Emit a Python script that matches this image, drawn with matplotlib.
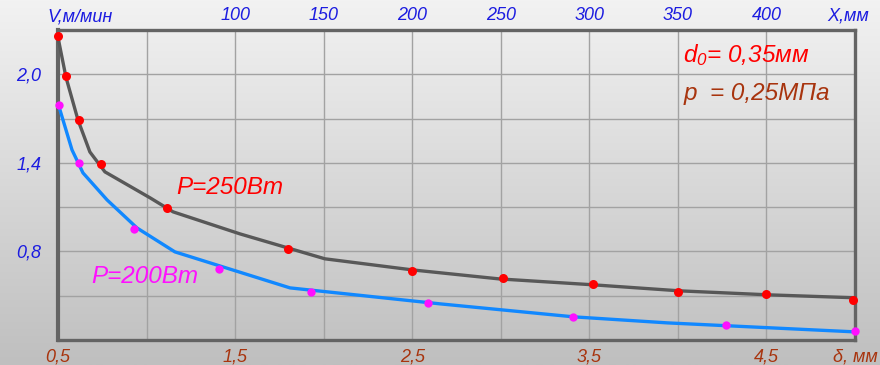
import numpy as np
import matplotlib
matplotlib.use("Agg")
import matplotlib.pyplot as plt
import matplotlib.transforms as mtrans

plt.rcParams['font.family'] = ['Liberation Sans', 'DejaVu Sans']
plt.rcParams['mathtext.fontset'] = 'custom'
plt.rcParams['mathtext.it'] = 'Liberation Sans:italic'
plt.rcParams['mathtext.rm'] = 'Liberation Sans:italic'

# ---- data ----
# P = 250 W : measured points
d_250 = [0.50, 0.545, 0.62, 0.74, 1.115, 1.80, 2.50, 3.01, 3.52, 4.00, 4.50, 4.99]
v_250 = [2.26, 1.99, 1.69, 1.39, 1.095, 0.817, 0.668, 0.621, 0.580, 0.526, 0.510, 0.472]
# P = 250 W : drawn curve
d_250_line = [0.50, 0.545, 0.613, 0.68, 0.765, 1.02, 1.15, 1.527, 2.007, 2.50, 2.99, 3.52, 4.01, 4.51, 5.00]
v_250_line = [2.25, 1.98, 1.69, 1.474, 1.339, 1.163, 1.068, 0.919, 0.750, 0.675, 0.614, 0.574, 0.533, 0.506, 0.486]
# P = 200 W : measured points
d_200 = [0.505, 0.62, 0.93, 1.41, 1.93, 2.59, 3.41, 4.27, 5.00]
v_200 = [1.79, 1.40, 0.953, 0.682, 0.526, 0.452, 0.357, 0.300, 0.262]
# P = 200 W : drawn curve
d_200_line = [0.506, 0.579, 0.641, 0.777, 0.946, 1.16, 1.81, 2.656, 3.41, 3.94, 5.00]
v_200_line = [1.779, 1.488, 1.332, 1.149, 0.959, 0.797, 0.553, 0.445, 0.357, 0.316, 0.255]

x_ticks = [0.5, 1.0, 1.5, 2.0, 2.5, 3.0, 3.5, 4.0, 4.5, 5.0]
x_labels = ['0,5', '', '1,5', '', '2,5', '', '3,5', '', '4,5', 'δ, мм']
top_ticks = [0, 50, 100, 150, 200, 250, 300, 350, 400, 450]
top_labels = ['', '', '100', '150', '200', '250', '300', '350', '400', 'X,мм']
y_ticks = [0.2, 0.5, 0.8, 1.1, 1.4, 1.7, 2.0, 2.3]
y_labels = ['', '', '0,8', '', '1,4', '', '2,0', '']

W, H = 880, 365
fig = plt.figure(figsize=(W / 100, H / 100), dpi=100)

# background gradient
bg = fig.add_axes([0, 0, 1, 1], zorder=-10)
grad = np.linspace(0, 1, 256).reshape(-1, 1)
top_c = np.array([0xf2, 0xf2, 0xf2]) / 255
bot_c = np.array([0xbf, 0xbf, 0xbf]) / 255
img = top_c[None, None, :] * (1 - grad[:, :, None]) + bot_c[None, None, :] * grad[:, :, None]
bg.imshow(img, aspect='auto', extent=[0, 1, 0, 1])
bg.axis('off')

L, R, T, B = 58, 855, 30, 340
ax = fig.add_axes([L / W, 1 - B / H, (R - L) / W, (B - T) / H])
ax.set_facecolor('none')
ax.set_xlim(0.5, 5.0)
ax.set_ylim(0.2, 2.3)

ax.set_xticks(x_ticks)
ax.set_xticklabels(x_labels, fontsize=13, style='italic', color='#a8340e')
ax.set_yticks(y_ticks)
ax.set_yticklabels(y_labels, fontsize=13, style='italic', color='#1c1ce0')
ax.tick_params(axis='both', length=0)
ax.tick_params(axis='x', pad=6)
ax.tick_params(axis='y', pad=12)
ax.grid(True, color='#a2a2a2', linewidth=1.0)
ax.set_axisbelow(True)
for s in ax.spines.values():
    s.set_color('#646464')
    s.set_linewidth(2.4)
ax.spines['left'].set_linewidth(3.0)

sec = ax.secondary_xaxis('top', functions=(lambda d: 100 * d - 50, lambda x: (x + 50) / 100))
sec.set_xticks(top_ticks)
sec.set_xticklabels(top_labels, fontsize=13, style='italic', color='#1c1ce0')
sec.tick_params(length=0, pad=4)
sec.spines['top'].set_visible(False)
last = sec.get_xticklabels()[-1]
last.set_transform(last.get_transform() + mtrans.ScaledTranslation(-7 / 100, 0, fig.dpi_scale_trans))

ax.plot(d_250_line, v_250_line, color='#585858', linewidth=2.4, zorder=3, clip_on=False)
ax.plot(d_200_line, v_200_line, color='#1188ff', linewidth=2.4, zorder=3, clip_on=False)
ax.plot(d_250, v_250, 'o', color='#ff0000', markersize=6.5, markeredgewidth=0, zorder=4, clip_on=False)
ax.plot(d_200, v_200, 'o', color='#ff10ff', markersize=6, markeredgewidth=0, zorder=4, clip_on=False)

fig.text(80 / W, 1 - 17 / H, 'V,м/мин', fontsize=13, style='italic', color='#1c1ce0',
         ha='center', va='center')

ax.text(1.17, 1.23, 'P=250Bm', fontsize=17.5, style='italic', color='#ff0000', va='center', ha='left')
ax.text(0.69, 0.632, 'P=200Bm', fontsize=17.5, style='italic', color='#ff10ff', va='center', ha='left')
ax.text(4.03, 2.13, r'$d_0$= 0,35мм', fontsize=17.5, style='italic', color='#ff0000', va='center', ha='left')
ax.text(4.03, 1.873, 'p  = 0,25МПа', fontsize=17.5, style='italic', color='#a8340e', va='center', ha='left')

fig.savefig('out.png', dpi=100)
